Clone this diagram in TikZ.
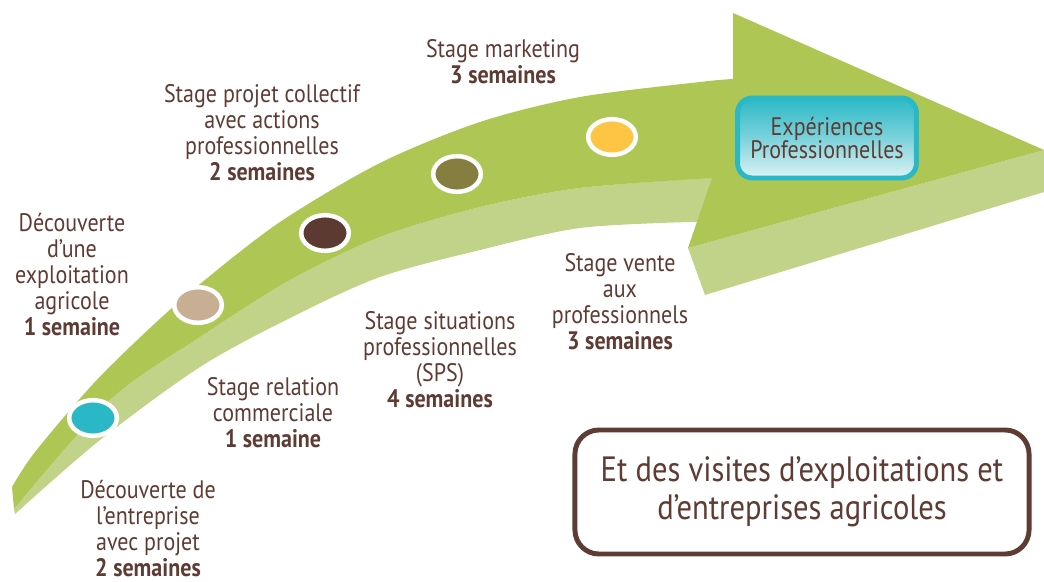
\documentclass[tikz,border=0pt]{standalone}
\usepackage{fontspec}
\setmainfont{PT Sans}[FakeStretch=0.87]
\usetikzlibrary{positioning,shapes.geometric}
\definecolor{topgreen}{HTML}{AEC653}
\definecolor{sidegreen}{HTML}{C0D389}
\definecolor{txtbrown}{HTML}{5E3B33}
\definecolor{dotcyan}{HTML}{2BB8C6}
\definecolor{dotbeige}{HTML}{C8AE93}
\definecolor{dotbrown}{HTML}{5C3A32}
\definecolor{dotolive}{HTML}{867D40}
\definecolor{dotyellow}{HTML}{FDC543}
\definecolor{expteal}{HTML}{2BB8C6}
\definecolor{explight}{HTML}{DDF3F6}

\begin{document}
\begin{tikzpicture}[x=0.025cm, y=-0.025cm,
    lbl/.style={text=txtbrown, align=center,
        font=\fontsize{18}{18.5}\selectfont},
    stagedot/.style={ellipse, draw=white, line width=3.2pt,
        inner sep=0pt, minimum width=1.19cm, minimum height=0.89cm}]
    \useasboundingbox (0,0) rectangle (1044,582);

    % Arrow, side faces
    \fill[sidegreen] plot[smooth] coordinates {(14,509) (110,400) (200,337)
        (290,280) (380,237) (480,207) (580,188) (720,177)}
        -- (700,222) -- plot[smooth] coordinates {(690,222) (580,228)
        (480,250) (380,277) (290,318) (200,367) (100,440) (15,514)} -- cycle;
    \fill[sidegreen] (688,248) -- (1044,150) -- (1044,192) -- (705,295) -- cycle;
    % Arrow, top face
    \fill[topgreen] plot[smooth] coordinates {(12,487) (35,452) (93,384)
        (150,328) (200,284) (280,222) (380,163) (480,122) (580,97)
        (700,82) (733,79)}
        -- (733,13) -- (1044,150) -- (688,248) -- (712,178)
        -- plot[smooth] coordinates {(712,178) (580,188) (480,207)
        (380,237) (290,280) (200,337) (110,400) (14,509)} -- cycle;

    % Stages
    \node [stagedot, fill=dotcyan]   (Dot1) at (93,418)  {};
    \node [stagedot, fill=dotbeige]  (Dot2) at (198,305) {};
    \node [stagedot, fill=dotbrown]  (Dot3) at (325,233) {};
    \node [stagedot, fill=dotolive]  (Dot4) at (457,174) {};
    \node [stagedot, fill=dotyellow] (Dot5) at (612,137) {};

    % Labels
    \node [lbl] (Label1) at (148,529)
        {Découverte de\\l’entreprise\\avec projet\\\textbf{2 semaines}};
    \node [lbl] (Label2) at (72,275)
        {Découverte\\d’une\\exploitation\\agricole\\\textbf{1 semaine}};
    \node [lbl] (Label3) at (273,413)
        {Stage relation\\commerciale\\\textbf{1 semaine}};
    \node [lbl] (Label4) at (262,133)
        {Stage projet collectif\\avec actions\\professionnelles\\\textbf{2 semaines}};
    \node [lbl] (Label5) at (440,360)
        {Stage situations\\professionnelles\\(SPS)\\\textbf{4 semaines}};
    \node [lbl] (Label6) at (503,62)
        {Stage marketing\\\textbf{3 semaines}};
    \node [lbl] (Label7) at (620,302)
        {Stage vente\\aux\\professionnels\\\textbf{3 semaines}};

    % Boxes
    \node [draw=expteal,
        line width=3.5pt,
        rounded corners=0.37cm,
        top color=expteal,
        bottom color=explight,
        middle color=expteal!55!explight,
        minimum width=4.47cm,
        minimum height=2cm,
        align=center,
        text=txtbrown,
        font=\fontsize{18}{17}\selectfont
    ] (Exp) at (827,138) {Expériences\\Professionnelles};
    \node [draw=txtbrown,
        line width=3.5pt,
        rounded corners=0.6cm,
        fill=white,
        minimum width=11.35cm,
        minimum height=3.1cm,
        align=center,
        text=txtbrown,
        font=\fontsize{25}{27}\selectfont
    ] (Visits) at (802,492) {Et des visites d’exploitations et\\d’entreprises agricoles};

\end{tikzpicture}
\end{document}
